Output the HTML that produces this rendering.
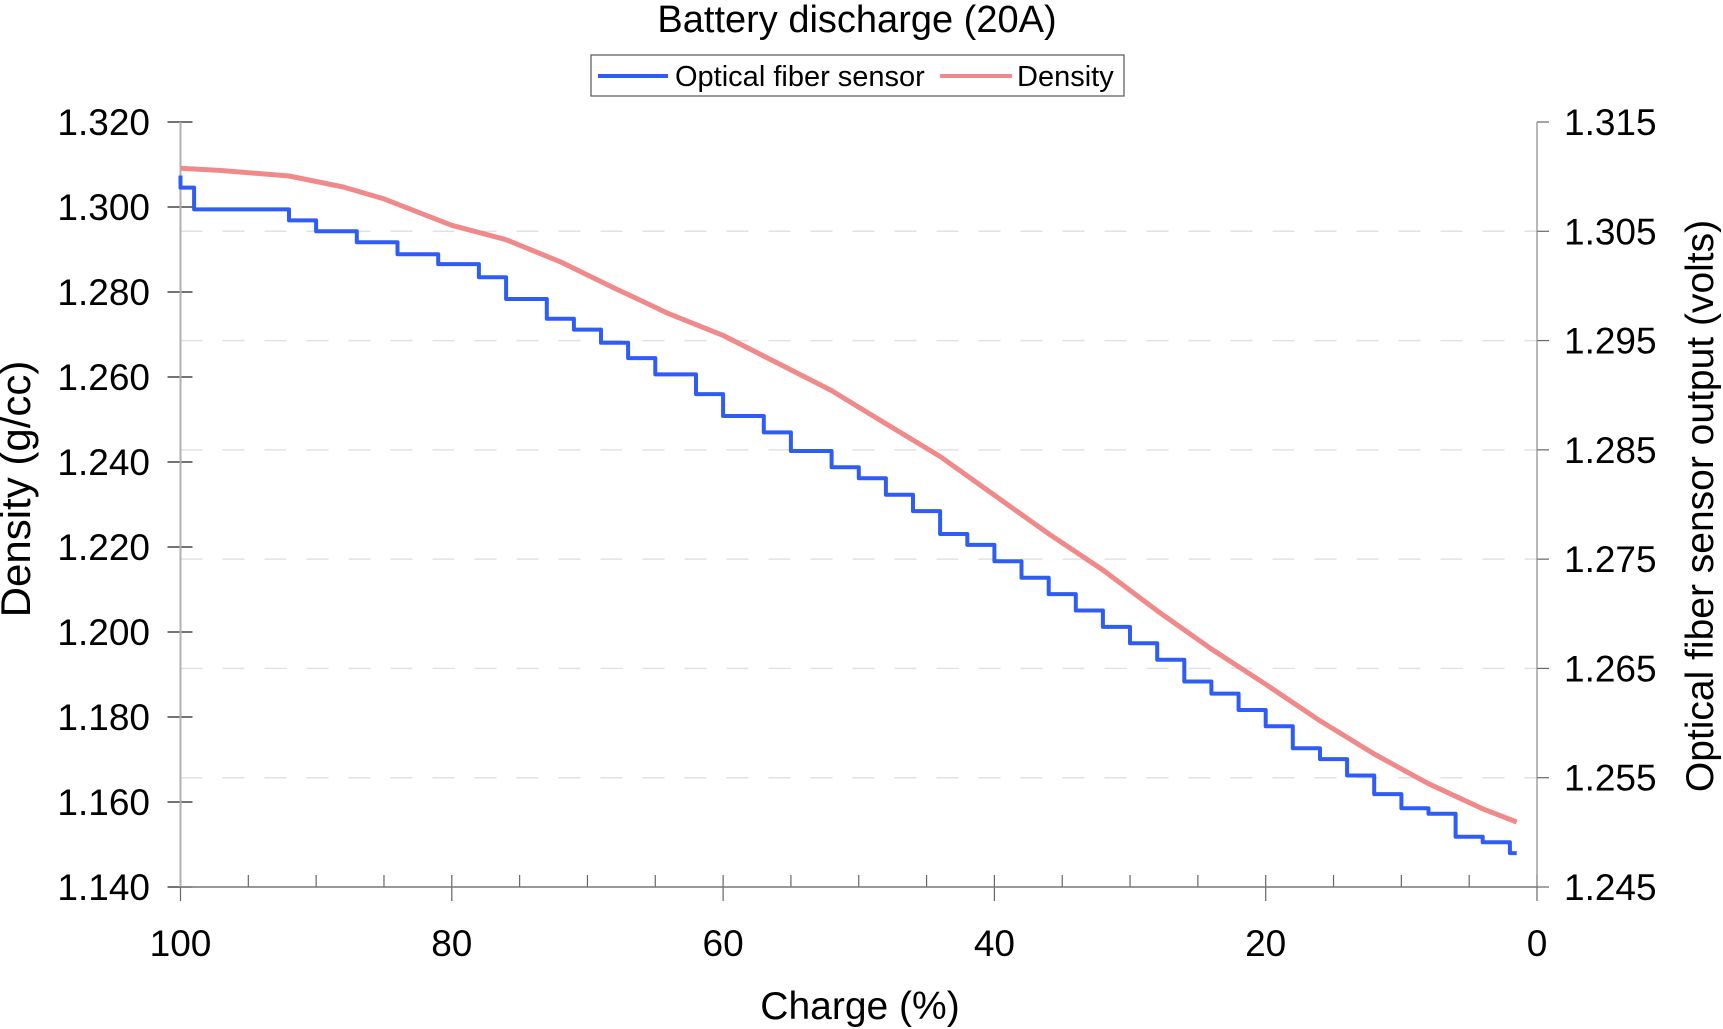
<!DOCTYPE html>
<html><head><meta charset="utf-8"><style>
html,body{margin:0;padding:0;background:#fff}
svg{display:block;font-family:"Liberation Sans",Arial,sans-serif}
</style></head><body>
<svg id="chart" width="1723" height="1029" viewBox="0 0 1723 1029">
<text x="857" y="32" font-size="38" text-anchor="middle">Battery discharge (20A)</text>
<g>
<rect x="591" y="55" width="533" height="41" fill="#fff" stroke="#555" stroke-width="1.2"/>
<line x1="598" y1="76" x2="668" y2="76" stroke="#2f5cf5" stroke-width="4"/>
<text x="675" y="86" font-size="29">Optical fiber sensor</text>
<line x1="940" y1="76" x2="1012" y2="76" stroke="#f08a8a" stroke-width="4"/>
<text x="1017" y="86" font-size="29">Density</text>
</g>
<g id="grid"></g>
<g id="axes"></g>
<g id="series"></g>
<text x="860" y="1019" font-size="39" text-anchor="middle">Charge (%)</text>
<text transform="translate(30,489) rotate(-90)" font-size="42" text-anchor="middle">Density (g/cc)</text>
<text transform="translate(1713,506) rotate(-90)" font-size="39" text-anchor="middle">Optical fiber sensor output (volts)</text>
</svg>
<script>
const densityCharge=[100,97,92,88,85,80,76,72,68,64,60,56,52,48,44,40,36,32,28,24,20,16,12,8,4,1.5];
const densityValues=[1.3091,1.3086,1.3073,1.3047,1.3019,1.2957,1.2923,1.2871,1.2809,1.2749,1.2698,1.2633,1.2568,1.2490,1.2413,1.2322,1.2231,1.2146,1.2050,1.1960,1.1877,1.1791,1.1713,1.1643,1.1584,1.1553];
const sensorCharge=[100,99,92,90,87,84,81,78,76,73,71,69,67,65,62,60,57,55,52,50,48,46,44,42,40,38,36,34,32,30,28,26,24,22,20,18,16,14,12,10,8,6,4,2,1.5];
const sensorValues=[1.3101,1.3090,1.3070,1.3060,1.3050,1.3040,1.3029,1.3020,1.3008,1.2988,1.2970,1.2960,1.2948,1.2934,1.2919,1.2901,1.2881,1.2866,1.2849,1.2834,1.2824,1.2809,1.2794,1.2773,1.2763,1.2748,1.2733,1.2718,1.2703,1.2688,1.2673,1.2658,1.2638,1.2627,1.2612,1.2597,1.2577,1.2567,1.2552,1.2535,1.2522,1.2517,1.2496,1.2491,1.2481];
const xTicks=[100,80,60,40,20,0];
const leftTicks=["1.320","1.300","1.280","1.260","1.240","1.220","1.200","1.180","1.160","1.140"];
const rightTicks=["1.315","1.305","1.295","1.285","1.275","1.265","1.255","1.245"];
const NS="http://www.w3.org/2000/svg";
const X0=180.5,X1=1537,Y0=122,Y1=887;
const xs=c=>X0+(100-c)/100*(X1-X0);
const yl=v=>Y0+(1.320-v)/0.18*(Y1-Y0);
const yr=v=>Y0+(1.315-v)/0.07*(Y1-Y0);
function mk(tag,attrs,parent){const e=document.createElementNS(NS,tag);for(const k in attrs)e.setAttribute(k,attrs[k]);parent.appendChild(e);return e;}
const grid=document.getElementById('grid'),axes=document.getElementById('axes'),series=document.getElementById('series');
rightTicks.forEach((t,i)=>{const y=yr(parseFloat(t));
 if(i>0&&i<rightTicks.length-1){const g=mk('line',{x1:X0,x2:X1,y1:y,y2:y,stroke:'#e2e2e2','stroke-width':1.5,'stroke-dasharray':'22 20'},grid);
 
 }
 const tk=mk('line',{x1:X1,x2:X1+12,y1:y,y2:y,stroke:'#666','stroke-width':1.2},axes);
 
 
 const tx=mk('text',{x:X1+27,y:y+13,'font-size':37},axes);tx.textContent=t;
 
 
});
leftTicks.forEach(t=>{const y=yl(parseFloat(t));
 const tk=mk('line',{x1:X0-13,x2:X0+12,y1:y,y2:y,stroke:'#222','stroke-width':1.2},axes);
 
 
 const tx=mk('text',{x:150,y:y+13,'font-size':37,'text-anchor':'end'},axes);tx.textContent=t;
 
 
});
for(let c=100;c>=0;c-=5){const x=xs(c);
 const tk=mk('line',{x1:x,x2:x,y1:Y1-12,y2:Y1+(c%20===0?14:0),stroke:'#666','stroke-width':1.2},axes);
 
 }
xTicks.forEach(c=>{const tx=mk('text',{x:xs(c),y:956,'font-size':37,'text-anchor':'middle'},axes);tx.textContent=c;
 
 });
const la=mk('line',{x1:X0,x2:X0,y1:Y0,y2:Y1,stroke:'#b0b0b0','stroke-width':2},axes);


const ra=mk('line',{x1:X1,x2:X1,y1:Y0,y2:Y1,stroke:'#888','stroke-width':1.2},axes);


const ba=mk('line',{x1:X0,x2:X1,y1:Y1,y2:Y1,stroke:'#777','stroke-width':1.5},axes);


let d='';densityCharge.forEach((c,i)=>{d+=(i?'L':'M')+xs(c).toFixed(1)+','+yl(densityValues[i]).toFixed(1);});
const dp=mk('path',{d:d,fill:'none',stroke:'#f08a8a','stroke-width':5,'stroke-linejoin':'round'},series);


let s='';sensorCharge.forEach((c,i)=>{const x=xs(c).toFixed(1),y=yr(sensorValues[i]).toFixed(1);
 if(i===0)s+='M'+x+','+y;else s+='V'+y+'H'+x;});
const sp=mk('path',{d:s,fill:'none',stroke:'#2f5cf5','stroke-width':4,'stroke-linejoin':'round'},series);


</script>
</body></html>
